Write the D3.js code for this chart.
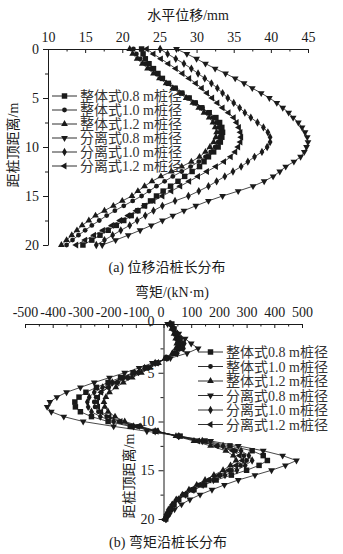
<!DOCTYPE html>
<html><head><meta charset="utf-8">
<script src="https://cdn.jsdelivr.net/npm/d3@7"></script>
<style>
body{margin:0;background:#fff;}
svg{display:block;font-family:"Liberation Serif","Noto Sans CJK SC",serif;}
</style></head>
<body><svg id="c" width="343" height="554"></svg>
<script>
// ---------- data ----------
const depth = [0,0.5,1,1.5,2,2.5,3,3.5,4,4.5,5,5.5,6,6.5,7,7.5,8,8.5,9,9.5,10,
               10.5,11,11.5,12,12.5,13,13.5,14,14.5,15,15.5,16,16.5,17,17.5,18,18.5,19,19.5,20];
const seriesNames = ["整体式0.8 m桩径","整体式1.0 m桩径","整体式1.2 m桩径","分离式0.8 m桩径","分离式1.0 m桩径","分离式1.2 m桩径"];
const seriesSymbols = ["square","circle","triUp","triDown","diamond","triLeft"];

// displacement (mm)
const dispZT08 = [22.6,22.8,23.1,23.6,24.2,24.8,25.4,26.2,27.1,28.0,29.0,29.8,30.7,31.7,32.6,33.1,33.4,33.5,33.4,33.2,32.9,
                  32.3,31.6,31.0,30.4,29.4,28.4,27.5,26.5,25.5,24.6,23.8,23.0,22.1,21.2,20.2,19.2,18.1,17.0,15.9,14.7];
const dispZT10 = [21.5,21.9,22.4,23.1,23.8,24.6,25.4,26.3,27.2,28.1,29.0,29.9,30.8,31.5,32.2,32.7,33.0,33.1,33.1,32.9,32.5,
                  31.9,31.2,30.3,29.2,28.0,26.8,25.7,24.6,23.6,22.6,21.4,20.2,19.0,17.9,16.9,15.9,15.0,14.1,13.3,12.5];
const dispZT12 = [21.0,21.4,22.0,22.7,23.4,24.2,25.0,25.9,26.8,27.7,28.6,29.5,30.3,31.0,31.7,32.2,32.5,32.7,32.6,32.3,31.8,
                  31.2,30.4,29.3,28.0,26.6,25.2,24.0,23.0,22.1,21.3,20.0,18.8,17.6,16.4,15.5,14.6,13.9,13.2,12.5,11.8];
const dispFL08 = [27.3,28.7,30.0,31.2,32.5,33.9,35.2,36.4,37.5,38.7,39.8,40.8,41.6,42.4,43.0,43.7,44.2,44.6,44.9,45.0,44.8,
                  44.5,44.0,43.1,42.0,41.2,40.3,39.1,37.6,35.6,33.5,31.6,29.9,28.3,26.8,25.4,23.9,22.4,20.8,19.1,17.3];
const dispFL10 = [25.1,26.1,27.2,28.3,29.3,30.2,31.1,32.0,32.8,33.5,34.2,35.0,35.8,36.5,37.3,38.2,39.0,39.6,39.9,39.9,39.5,
                  38.8,37.8,36.9,36.0,34.9,33.8,32.7,31.6,30.3,28.9,27.1,25.4,24.2,23.1,22.0,21.0,19.8,18.7,17.6,16.5];
const dispFL12 = [23.3,24.2,25.2,26.2,27.2,28.1,29.0,29.9,30.7,31.4,32.1,32.8,33.5,34.3,35.0,35.4,35.7,35.9,36.0,35.9,35.6,
                  35.2,34.6,33.7,32.6,31.4,30.2,29.0,27.8,26.6,25.4,24.2,23.0,21.9,20.8,19.7,18.6,17.4,16.2,15.0,13.8];

// bending moment (kN·m)
const momZT08 = [30,38,45,52,55,55,40,10,-25,-65,-110,-155,-200,-242,-280,-305,-320,-318,-300,-260,-200,
                 -120,-30,60,150,240,320,360,375,345,300,245,190,148,110,80,55,38,25,15,8];
const momZT10 = [25,32,40,46,50,48,35,8,-20,-55,-90,-128,-165,-198,-225,-243,-250,-247,-235,-205,-160,
                 -95,-25,50,125,195,260,290,300,278,245,205,165,130,100,73,50,34,22,13,6];
const momZT12 = [22,30,38,44,48,45,32,7,-18,-48,-80,-113,-145,-172,-195,-208,-215,-212,-200,-175,-140,
                 -82,-20,45,110,170,225,252,262,242,215,182,150,120,92,68,46,32,20,12,5];
const momFL08 = [15,35,55,78,100,125,85,25,-40,-88,-140,-195,-250,-300,-350,-385,-410,-420,-405,-360,-290,
                 -180,-60,55,170,270,360,430,480,440,390,330,270,220,175,132,95,65,40,22,10];
const momFL10 = [25,38,50,63,75,72,50,12,-30,-68,-105,-145,-185,-220,-250,-268,-275,-272,-260,-228,-180,
                 -108,-30,55,140,215,280,308,320,295,265,222,180,143,110,80,55,38,25,15,8];
const momFL12 = [22,34,45,56,65,63,45,10,-25,-60,-95,-133,-170,-200,-225,-236,-240,-236,-225,-195,-155,
                 -92,-25,50,125,192,250,275,285,262,235,200,165,131,100,73,50,34,22,13,6];

const dispTicks = [10,15,20,25,30,35,40,45];
const dispMinor = [12.5,17.5,22.5,27.5,32.5,37.5,42.5];
const momTicks = [-500,-400,-300,-200,-100,0,100,200,300,400,500];
const momMinor = [-450,-350,-250,-150,-50,50,150,250,350,450];
const depthTicks = [0,5,10,15,20];
const depthMinor = [2.5,7.5,12.5,17.5];

const dispSeries = [dispZT08,dispZT10,dispZT12,dispFL08,dispFL10,dispFL12];
const momSeries = [momZT08,momZT10,momZT12,momFL08,momFL10,momFL12];

// ---------- drawing ----------
const svg = d3.select("#c");
const INK = "#1a1a1a";

function symPath(kind){
  const sizes = {square:30, circle:18, triUp:20, triDown:20, diamond:20, triLeft:20};
  const types = {square:d3.symbolSquare, circle:d3.symbolCircle, triUp:d3.symbolTriangle,
                 triDown:d3.symbolTriangle, diamond:d3.symbolDiamond, triLeft:d3.symbolTriangle};
  return d3.symbol().type(types[kind]).size(sizes[kind])();
}
function symRot(kind){ return kind==="triDown"?180:(kind==="triLeft"?-90:0); }

function drawPanel(cfg){
  const g = svg.append("g");
  const x = d3.scaleLinear().domain(cfg.xDomain).range(cfg.xRange);
  const y = d3.scaleLinear().domain([0,20]).range(cfg.yRange);
  const yAxisX = cfg.yAxisAtZero ? x(0) : cfg.xRange[0];
  const axY = cfg.yRange[0];

  // top x axis
  const xa = g.append("g").attr("transform",`translate(0,${axY})`)
    .call(d3.axisTop(x).tickValues(cfg.xTicks).tickSizeInner(-4).tickSizeOuter(0).tickPadding(7)
      .tickFormat(d=> (d<0? "-"+Math.abs(d): String(d))));
  g.append("g").attr("transform",`translate(0,${axY})`)
    .call(d3.axisTop(x).tickValues(cfg.xMinor).tickSizeInner(-2.5).tickSizeOuter(0).tickFormat(""))
    .select(".domain").remove();
  xa.selectAll("text").attr("font-size",14).attr("fill",INK).attr("font-family","Liberation Serif");
  if(cfg.hideZeroX) xa.selectAll(".tick").filter(d=>d===0).select("text").attr("dx",-3);

  // left y axis
  const ya = g.append("g").attr("transform",`translate(${yAxisX},0)`)
    .call(d3.axisLeft(y).tickValues(depthTicks).tickSizeInner(5).tickSizeOuter(0).tickPadding(4));
  g.append("g").attr("transform",`translate(${yAxisX},0)`)
    .call(d3.axisLeft(y).tickValues(depthMinor).tickSizeInner(3).tickSizeOuter(0).tickFormat(""))
    .select(".domain").remove();
  ya.selectAll("text").attr("font-size",14).attr("fill",INK).attr("font-family","Liberation Serif");
  if(cfg.yAxisAtZero) ya.selectAll(".tick").filter(d=>d===0).select("text").attr("dy","0.1em");
  g.selectAll(".domain,.tick line").attr("stroke",INK).attr("stroke-width",1);

  // series
  cfg.series.forEach((vals,i)=>{
    const pts = depth.map((d,j)=>[x(vals[j]), y(d)]);
    g.append("path").attr("d", d3.line()(pts))
      .attr("fill","none").attr("stroke",INK).attr("stroke-width",0.8);
    const k = seriesSymbols[i];
    g.selectAll(null).data(pts).enter().append("path")
      .attr("d",symPath(k))
      .attr("transform",p=>`translate(${p[0]},${p[1]}) rotate(${symRot(k)})`)
      .attr("fill",INK);
  });

  // legend
  seriesNames.forEach((name,i)=>{
    const ly = cfg.legY + i*cfg.legDy;
    const lx = cfg.legX;
    g.append("line").attr("x1",lx).attr("x2",lx+25).attr("y1",ly).attr("y2",ly)
      .attr("stroke",INK).attr("stroke-width",0.9);
    const k = seriesSymbols[i];
    g.append("path").attr("d",symPath(k))
      .attr("transform",`translate(${lx+12.5},${ly}) rotate(${symRot(k)})`).attr("fill",INK);
    g.append("text").attr("x",lx+28).attr("y",ly).attr("dy","0.36em")
      .attr("font-size",14).attr("fill","#333").text(name);
  });

  // axis titles
  g.append("text").attr("x",cfg.xTitleX).attr("y",cfg.xTitleY).attr("text-anchor","middle")
    .attr("dy","0.36em").attr("font-size",14).attr("fill",INK).text(cfg.xTitle);
  g.append("text").attr("transform",`translate(${cfg.yTitleX},${cfg.yTitleY}) rotate(-90)`)
    .attr("text-anchor","middle").attr("dy","0.36em").attr("font-size",14).attr("fill",INK)
    .text("距桩顶距离/m");
  g.append("text").attr("x",cfg.capX).attr("y",cfg.capY).attr("text-anchor","middle")
    .attr("dy","0.36em").attr("font-size",14).attr("fill",INK).text(cfg.caption);
}

drawPanel({
  xDomain:[10,45], xRange:[48,308], yRange:[49,245],
  xTicks:dispTicks, xMinor:dispMinor, series:dispSeries,
  yAxisAtZero:false,
  legX:52, legY:96, legDy:14,
  xTitle:"水平位移/mm", xTitleX:188, xTitleY:15,
  yTitleX:13, yTitleY:145,
  caption:"(a) 位移沿桩长分布", capX:167, capY:267
});

drawPanel({
  xDomain:[-500,500], xRange:[25,302], yRange:[324,519],
  xTicks:momTicks, xMinor:momMinor, series:momSeries,
  yAxisAtZero:true, hideZeroX:true,
  legX:198, legY:352, legDy:14.5,
  xTitle:"弯矩/(kN·m)", xTitleX:172, xTitleY:292,
  yTitleX:129, yTitleY:476,
  caption:"(b) 弯矩沿桩长分布", capX:168, capY:542
});
</script></body></html>
